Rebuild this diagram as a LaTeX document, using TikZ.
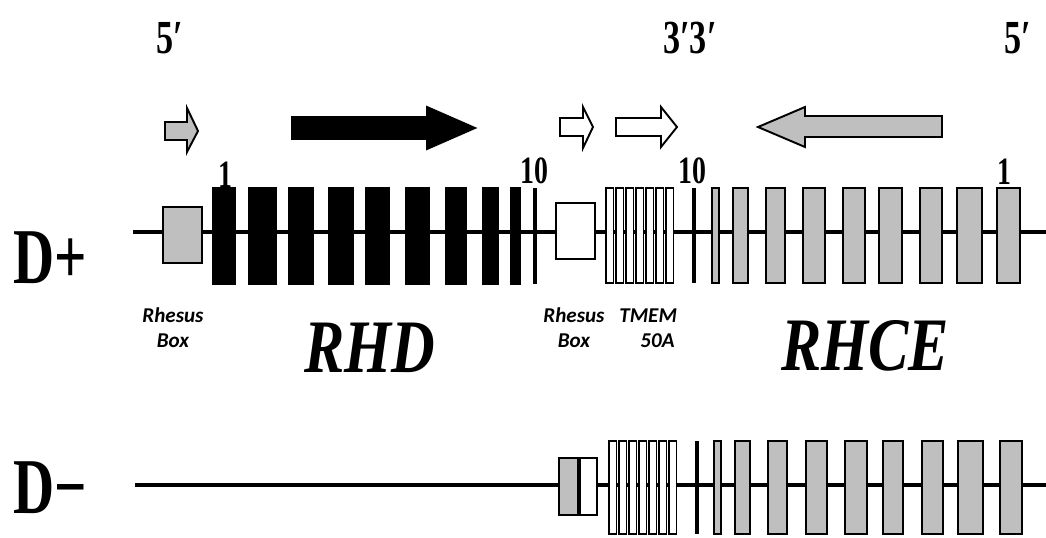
\documentclass[tikz,border=0pt]{standalone}
\usepackage{fontspec}
\newfontfamily\geneserif[FakeStretch=0.72]{Liberation Serif}
\newfontfamily\geneital[FakeStretch=0.8]{Liberation Serif}
\newfontfamily\notefont{Carlito}
\usepackage{tikz}
\tikzset{
  chrom/.style={line width=2.5pt,color=black},
  exonD/.style={fill=black,draw=black,line width=1.1pt},
  exonCE/.style={fill=black!25,draw=black,line width=1.1pt},
  tmemexon/.style={fill=white,draw=black,line width=0.9pt},
  thinexon/.style={line width=2pt,color=black},
  rhbox/.style={draw=black,line width=1.1pt},
  dirarrow/.style={draw=black,line width=1.1pt,line join=miter},
  endlabel/.style={font=\geneserif\bfseries\fontsize{27}{27}\selectfont,inner sep=0pt},
  exnum/.style={font=\geneserif\bfseries\fontsize{22}{22}\selectfont,inner sep=0pt},
  rowlabel/.style={font=\geneserif\bfseries\fontsize{45}{45}\selectfont,inner sep=0pt},
  genename/.style={font=\geneital\bfseries\itshape\fontsize{43}{43}\selectfont,inner sep=0pt},
  boxnote/.style={font=\notefont\bfseries\itshape\fontsize{12}{14.2}\selectfont,inner sep=0pt,align=center}
}

\begin{document}
\begin{tikzpicture}[x=0.02cm,y=-0.02cm]
\useasboundingbox (0,0) rectangle (1046,538);

%% ── Strand ends ──────────────────────────────────────────
\node[endlabel] (fiveL)  at (170,38)  {5′};
\node[endlabel] (threeM) at (690,38)  {3′3′};
\node[endlabel] (fiveR)  at (1018,38) {5′};

%% ── Direction arrows ─────────────────────────────────────
\draw[dirarrow,fill=black!25] (165,122) -- (187,122) -- (187,108) -- (198,131)
  -- (187,152) -- (187,140) -- (165,140) -- cycle;
\draw[dirarrow,fill=black] (292,117) -- (427,117) -- (427,107) -- (475,128)
  -- (427,149) -- (427,139) -- (292,139) -- cycle;
\draw[dirarrow,fill=white] (560,118) -- (583,118) -- (583,107) -- (593,127)
  -- (583,148) -- (583,136) -- (560,136) -- cycle;
\draw[dirarrow,fill=white] (616,118) -- (661,118) -- (661,107) -- (677,127)
  -- (661,147) -- (661,136) -- (616,136) -- cycle;
\draw[dirarrow,fill=black!25] (758,127) -- (805,107) -- (805,116) -- (942,116)
  -- (942,137) -- (805,137) -- (805,147) -- cycle;

%% ── D+ haplotype ─────────────────────────────────────────
\coordinate (dpL) at (133,232);
\coordinate (dpR) at (1046,232);
\draw[chrom] (dpL) -- (dpR);

\draw[rhbox,fill=black!25] (163,207) rectangle (202,263);
\foreach \a/\b in {213/235,249/276,289/313,329/353,366/389,406/429,446/466,483/498,511/520}
  \draw[exonD] (\a,188) rectangle (\b,284);
\draw[thinexon] (535,188) -- (535,284);

\draw[rhbox,fill=white] (556,203) rectangle (595,259);
\foreach \i in {0,...,6}
  \draw[tmemexon] (606+10*\i,188) rectangle (613.5+10*\i,283);
\draw[thinexon] (694,188) -- (694,283);
\draw[exonCE] (712,188) rectangle (719,283);
\foreach \a/\b in {733/748,766/785,803/825,843/865,879/902,920/942,957/982,997/1020}
  \draw[exonCE] (\a,188) rectangle (\b,283);

\node[exnum] (dOne)  at (225,175)  {1};
\node[exnum] (dTen)  at (534,171)  {10};
\node[exnum] (ceTen) at (692,171)  {10};
\node[exnum] (ceOne) at (1004,172) {1};

\node[rowlabel] (dplus) at (50,258) {D+};

%% ── Labels ───────────────────────────────────────────────
\node[boxnote] (rhboxL) at (173,328) {Rhesus\\Box};
\node[boxnote] (rhboxR) at (574,328) {Rhesus\\Box};
\node[boxnote,align=left,anchor=west] (tmem) at (619,328) {TMEM\\\hspace*{12pt}50A};
\node[genename] (rhd)  at (370,348) {RHD};
\node[genename] (rhce) at (865,346) {RHCE};

%% ── D− haplotype ─────────────────────────────────────────
\coordinate (dmL) at (135,485);
\coordinate (dmR) at (1046,485);
\draw[chrom] (dmL) -- (dmR);

\draw[rhbox,fill=black!25] (559,458) rectangle (579,515);
\draw[rhbox,fill=white] (579,458) rectangle (597,515);
\draw[thinexon] (579,458) -- (579,515);
\foreach \i in {0,...,6}
  \draw[tmemexon] (609+10*\i,441) rectangle (616.5+10*\i,534);
\draw[thinexon] (697,441) -- (697,534);
\draw[exonCE] (714,441) rectangle (721,534);
\foreach \a/\b in {735/750,768/787,806/827,845/867,883/903,922/943,958/983,1000/1022}
  \draw[exonCE] (\a,441) rectangle (\b,534);

\node[rowlabel] (dminus) at (50,488) {D−};

\end{tikzpicture}
\end{document}
